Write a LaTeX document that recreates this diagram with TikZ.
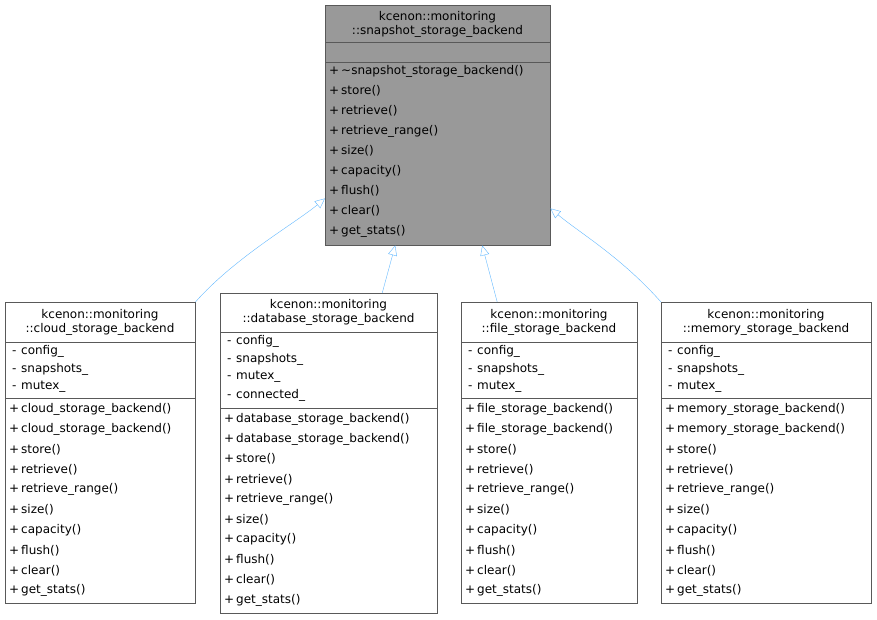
\documentclass[tikz,border=0pt]{standalone}
\usepackage{fontspec}
\setmainfont{DejaVu Sans}
\usetikzlibrary{arrows.meta}
\definecolor{edgeblue}{HTML}{63B8FF}
\definecolor{basegray}{HTML}{999999}
\tikzset{
  cls/.style={draw=black!65,fill=white,inner sep=0pt,anchor=north west},
  sep/.style={draw=black!65},
  title/.style={align=center,inner sep=0pt,font=\fontsize{12}{14}\selectfont},
  mem/.style={anchor=west,inner sep=0pt,font=\fontsize{12}{14}\selectfont},
  inh/.style={draw=edgeblue,-{Triangle[open,length=10pt,width=9pt]}}
}
\newcommand{\sym}[1]{\makebox[14pt][c]{#1}}
\begin{document}
\begin{tikzpicture}[x=1pt,y=-1pt]
\useasboundingbox (0,0) rectangle (877,619);
% base class
\node[cls,fill=basegray,minimum width=225,minimum height=240] (base) at (325,5) {};
\draw[sep] (325,42) -- (550,42) (325,62) -- (550,62);
\node[title] (basetitle) at (437.5,24) {kcenon::monitoring\\::snapshot\_storage\_backend};
\foreach \m [count=\i from 0] in {\textasciitilde snapshot\_storage\_backend(),store(),retrieve(),retrieve\_range(),size(),capacity(),flush(),clear(),get\_stats()}
  \node[mem] at (327,71+\i*20) {\sym{+}\m};
% cloud
\node[cls,minimum width=190,minimum height=301] (cloud) at (5,302) {};
\draw[sep] (5,342) -- (195,342) (5,398) -- (195,398);
\node[title] (cloudtitle) at (100,322) {kcenon::monitoring\\::cloud\_storage\_backend};
\foreach \m [count=\i from 0] in {config\_,snapshots\_,mutex\_}
  \node[mem] at (7,351+\i*18) {\sym{-}\m};
\foreach \m [count=\i from 0] in {cloud\_storage\_backend(),cloud\_storage\_backend(),store(),retrieve(),retrieve\_range(),size(),capacity(),flush(),clear(),get\_stats()}
  \node[mem] at (7,409+\i*20.2) {\sym{+}\m};
% database
\node[cls,minimum width=217,minimum height=320] (database) at (220,293) {};
\draw[sep] (220,332) -- (437,332) (220,408) -- (437,408);
\node[title] (databasetitle) at (328.5,312) {kcenon::monitoring\\::database\_storage\_backend};
\foreach \m [count=\i from 0] in {config\_,snapshots\_,mutex\_,connected\_}
  \node[mem] at (222,341+\i*18) {\sym{-}\m};
\foreach \m [count=\i from 0] in {database\_storage\_backend(),database\_storage\_backend(),store(),retrieve(),retrieve\_range(),size(),capacity(),flush(),clear(),get\_stats()}
  \node[mem] at (222,419+\i*20.1) {\sym{+}\m};
% file
\node[cls,minimum width=176,minimum height=301] (file) at (461,302) {};
\draw[sep] (461,342) -- (637,342) (461,398) -- (637,398);
\node[title] (filetitle) at (549,322) {kcenon::monitoring\\::file\_storage\_backend};
\foreach \m [count=\i from 0] in {config\_,snapshots\_,mutex\_}
  \node[mem] at (463,351+\i*18) {\sym{-}\m};
\foreach \m [count=\i from 0] in {file\_storage\_backend(),file\_storage\_backend(),store(),retrieve(),retrieve\_range(),size(),capacity(),flush(),clear(),get\_stats()}
  \node[mem] at (463,409+\i*20.2) {\sym{+}\m};
% memory
\node[cls,minimum width=210,minimum height=301] (memory) at (661,302) {};
\draw[sep] (661,342) -- (871,342) (661,398) -- (871,398);
\node[title] (memorytitle) at (766,322) {kcenon::monitoring\\::memory\_storage\_backend};
\foreach \m [count=\i from 0] in {config\_,snapshots\_,mutex\_}
  \node[mem] at (663,351+\i*18) {\sym{-}\m};
\foreach \m [count=\i from 0] in {memory\_storage\_backend(),memory\_storage\_backend(),store(),retrieve(),retrieve\_range(),size(),capacity(),flush(),clear(),get\_stats()}
  \node[mem] at (663,409+\i*20.2) {\sym{+}\m};
% inheritance
\draw[inh] (cloud.north east) .. controls +(40,-45) and +(-30,25) .. ([yshift=47]base.south west);
\draw[inh] ([xshift=53.5]database.north) -- ([xshift=-42.5]base.south);
\draw[inh] ([xshift=-52]file.north) -- ([xshift=44.5]base.south);
\draw[inh] (memory.north west) .. controls +(-40,-45) and +(30,25) .. ([yshift=37]base.south east);
\end{tikzpicture}
\end{document}
